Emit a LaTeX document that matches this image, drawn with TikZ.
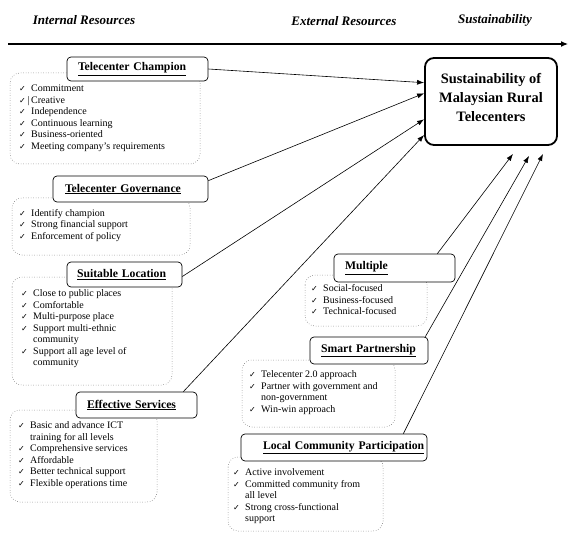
\documentclass[tikz,border=0pt]{standalone}
\usepackage{fontspec}
\setmainfont{Liberation Serif}
\newfontfamily\symfont{DejaVu Sans}
\usetikzlibrary{arrows.meta}
\newcommand{\chk}{\makebox[12pt][l]{{\symfont\fontsize{8}{8}\selectfont ✓}}}
\newcommand{\ind}{\hspace*{12pt}}
\tikzset{
  heading/.style={font=\fontsize{13}{15}\selectfont\bfseries\itshape},
  titlebox/.style 2 args={draw, rounded corners=4pt, fill=white, line width=0.7pt,
    font=\fontsize{11.7}{13}\selectfont\bfseries, inner xsep=0pt, inner ysep=0pt,
    text width=#1, align=left, execute at begin node={\hspace*{#2}}},
  itemframe/.style={dotted, rounded corners=10pt, line width=0.5pt, black!70},
  itemtext/.style={anchor=north west, inner sep=0pt, align=left,
    font=\fontsize{10}{11.5}\selectfont},
  goalbox/.style={draw, rounded corners=9pt, line width=1.8pt, align=center,
    font=\fontsize{14.4}{19}\selectfont\bfseries, inner sep=0pt, text depth=8pt},
  link/.style={-{Latex[length=7pt,width=5pt]}, line width=0.6pt}
}
\begin{document}
\begin{tikzpicture}[x=1pt,y=-1pt]
\useasboundingbox (0,0) rectangle (569,534);
	% headings
	\node[heading] (intres) at (84,20) {Internal Resources};
	\node[heading] (extres) at (344,21) {External Resources};
	\node[heading] (sust) at (495,20) {Sustainability};
	\coordinate (tstart) at (8,44);
	\coordinate (tend) at (568,44);
	\draw[line width=1.2pt, -{Latex[length=7pt,width=6pt]}] (tstart) -- (tend);
	% goal
	\node[goalbox, minimum width=132pt, minimum height=87pt] (goal) at (491,101.5)
		{Sustainability of\\Malaysian Rural\\Telecenters};
	% dotted item frames
	\draw[itemframe] (10,73) rectangle (200,164);
	\draw[itemframe] (12,198) rectangle (190,255);
	\draw[itemframe] (12,277) rectangle (172,385);
	\draw[itemframe] (10,410) rectangle (157,502);
	\draw[itemframe] (305,275) rectangle (427,326);
	\draw[itemframe] (242,360) rectangle (395,427);
	\draw[itemframe] (228,457) rectangle (383,531);
	% internal resources
	\node[titlebox={141pt}{11pt}, minimum height=24pt] (champ) at (137.5,69)
		{\underline{Telecenter Champion}};
	\node[titlebox={155pt}{12pt}, minimum height=26pt] (gov) at (130.5,189)
		{\underline{Telecenter Governance}};
	\node[titlebox={115pt}{10pt}, minimum height=25pt] (loc) at (124.5,274.5)
		{\underline{Suitable Location}};
	\node[titlebox={121pt}{11pt}, minimum height=26pt] (eff) at (136.5,405)
		{\underline{Effective Services}};
	% external resources
	\node[titlebox={121pt}{11pt}, minimum height=28pt] (multi) at (394.5,268)
		{\underline{Multiple}};
	\node[titlebox={118pt}{11pt}, minimum height=27pt] (smart) at (369,350.5)
		{\underline{Smart Partnership}};
	\node[titlebox={186pt}{22pt}, minimum height=27pt] (local) at (334,447.5)
		{\underline{Local Community Participation}};
	% item lists
	\node[itemtext] (champl) at (19,85) {\chk Commitment\\
		\makebox[12pt][l]{{\symfont\fontsize{8}{8}\selectfont ✓}\,|}Creative\\
		\chk Independence\\\chk Continuous learning\\\chk Business-oriented\\
		\chk Meeting company's requirements};
	\node[itemtext] (govl) at (19,209) {\chk Identify champion\\
		\chk Strong financial support\\\chk Enforcement of policy};
	\node[itemtext] (locl) at (21,289.5) {\chk Close to public places\\\chk Comfortable\\
		\chk Multi-purpose place\\\chk Support multi-ethnic\\\ind community\\
		\chk Support all age level of\\\ind community};
	\node[itemtext] (effl) at (18,421.5) {\chk Basic and advance ICT\\
		\ind training for all levels\\\chk Comprehensive services\\\chk Affordable\\
		\chk Better technical support\\\chk Flexible operations time};
	\node[itemtext] (multil) at (311,284.5) {\chk Social-focused\\
		\chk Business-focused\\\chk Technical-focused};
	\node[itemtext] (smartl) at (249,370.5) {\chk Telecenter 2.0 approach\\
		\chk Partner with government and\\\ind non-government\\\chk Win-win approach};
	\node[itemtext] (locall) at (233,468.5) {\chk Active involvement\\
		\chk Committed community from\\\ind all level\\\chk Strong cross-functional\\
		\ind support};
	% links to goal
	\draw[link] (champ.east) -- ([yshift=18.8pt]goal.west);
	\draw[link] ([yshift=-5pt]gov.north east) -- ([yshift=8.2pt]goal.west);
	\draw[link] ([yshift=-2pt]loc.east) -- ([yshift=-17.8pt]goal.west);
	\draw[link] ([xshift=-14pt]eff.north east) -- ([yshift=-33.5pt]goal.west);
	\draw[link] ([xshift=-18pt]multi.north east) -- ([xshift=22pt,yshift=-8pt]goal.south);
	\draw[link] ([xshift=-3pt]smart.north east) -- ([xshift=38pt,yshift=-10pt]goal.south);
	\draw[link] ([xshift=-24pt]local.north east) -- ([xshift=52pt,yshift=-8pt]goal.south);
\end{tikzpicture}
\end{document}
